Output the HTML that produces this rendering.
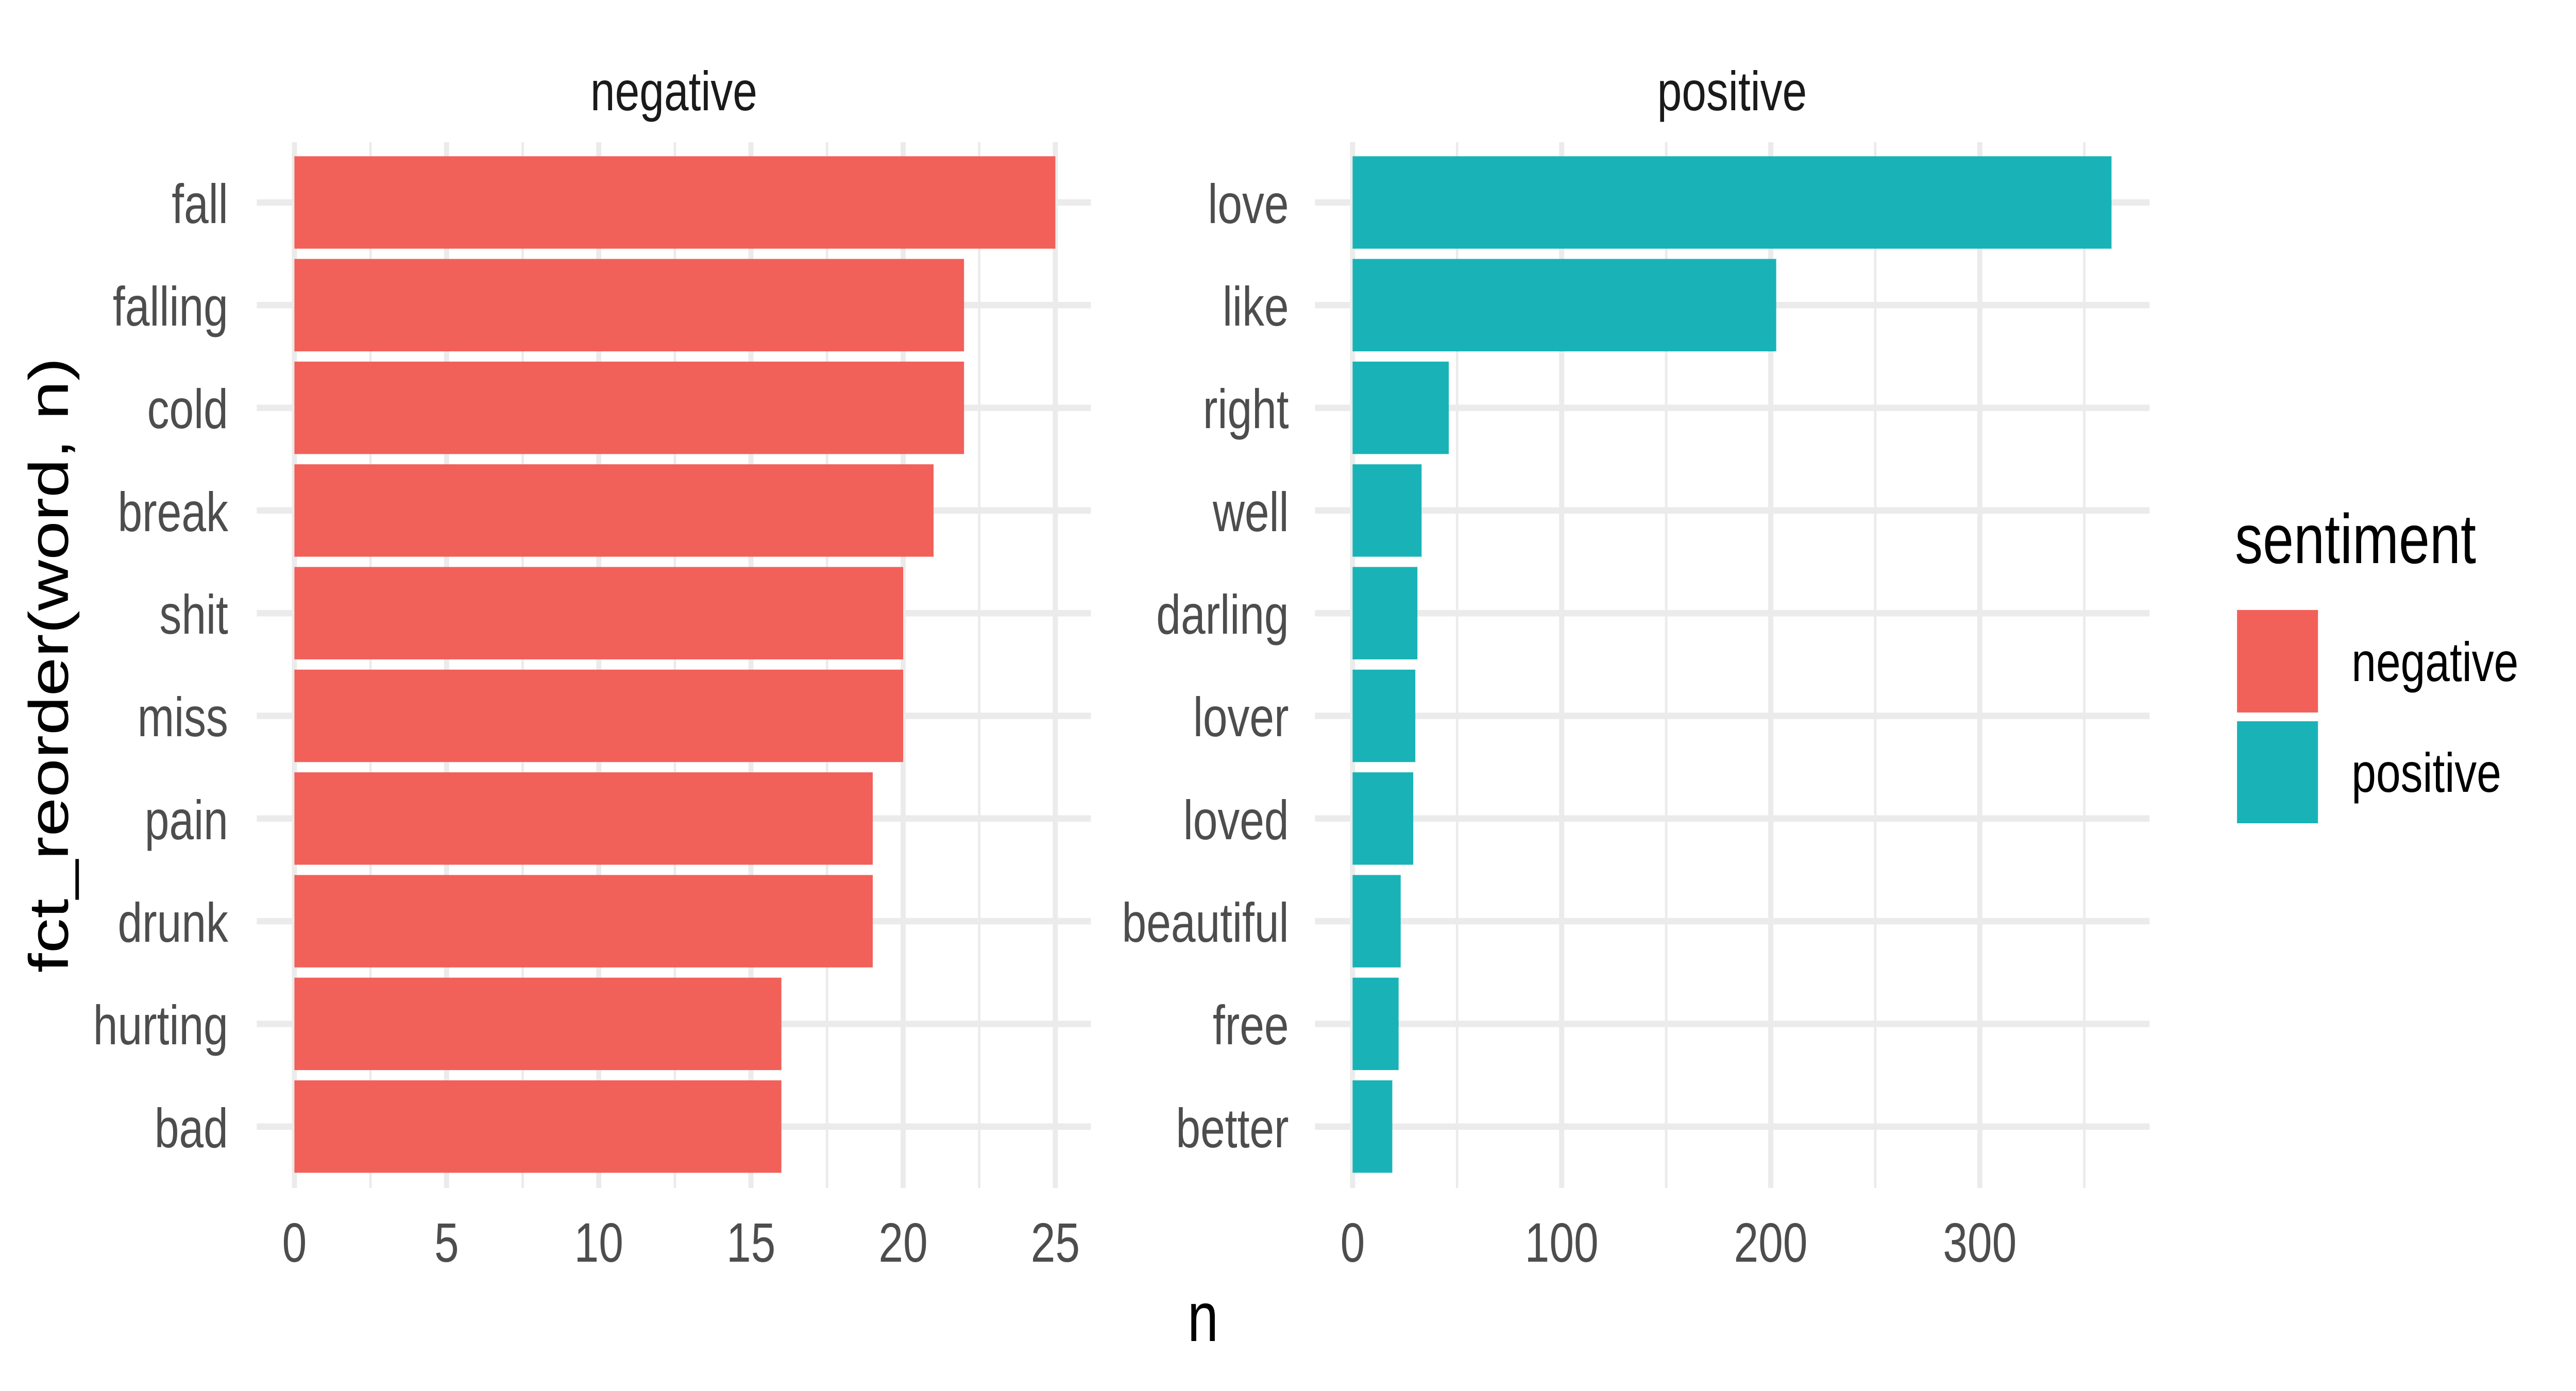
<!DOCTYPE html>
<html><head><meta charset="utf-8"><style>html,body{margin:0;padding:0;background:#fff;overflow:hidden;width:100%;height:100%}svg{display:block;width:100vw;height:100vh}</style></head>
<body>
<svg xmlns="http://www.w3.org/2000/svg" viewBox="0 0 6300 2700" preserveAspectRatio="none" font-family="Liberation Sans, Arial, sans-serif">
<rect width="6300" height="2700" fill="#fff"/>
<g stroke="#EBEBEB">
  <g stroke-width="6">
    <line x1="906.1" y1="276" x2="906.1" y2="2306"/><line x1="1278.3" y1="276" x2="1278.3" y2="2306"/>
    <line x1="1650.5" y1="276" x2="1650.5" y2="2306"/><line x1="2022.7" y1="276" x2="2022.7" y2="2306"/>
    <line x1="2394.9" y1="276" x2="2394.9" y2="2306"/>
    <line x1="3563.6" y1="276" x2="3563.6" y2="2306"/><line x1="4074.9" y1="276" x2="4074.9" y2="2306"/>
    <line x1="4586.2" y1="276" x2="4586.2" y2="2306"/><line x1="5097.5" y1="276" x2="5097.5" y2="2306"/>
  </g>
  <g stroke-width="12.5">
    <line x1="720" y1="276" x2="720" y2="2306"/><line x1="1092.2" y1="276" x2="1092.2" y2="2306"/>
    <line x1="1464.4" y1="276" x2="1464.4" y2="2306"/><line x1="1836.6" y1="276" x2="1836.6" y2="2306"/>
    <line x1="2208.8" y1="276" x2="2208.8" y2="2306"/><line x1="2581" y1="276" x2="2581" y2="2306"/>
    <line x1="3308" y1="276" x2="3308" y2="2306"/><line x1="3819.3" y1="276" x2="3819.3" y2="2306"/>
    <line x1="4330.6" y1="276" x2="4330.6" y2="2306"/><line x1="4841.9" y1="276" x2="4841.9" y2="2306"/>
    <g>
      <line x1="628" y1="393" x2="2668" y2="393"/><line x1="628" y1="592.3" x2="2668" y2="592.3"/>
      <line x1="628" y1="791.6" x2="2668" y2="791.6"/><line x1="628" y1="990.9" x2="2668" y2="990.9"/>
      <line x1="628" y1="1190.2" x2="2668" y2="1190.2"/><line x1="628" y1="1389.5" x2="2668" y2="1389.5"/>
      <line x1="628" y1="1588.8" x2="2668" y2="1588.8"/><line x1="628" y1="1788.1" x2="2668" y2="1788.1"/>
      <line x1="628" y1="1987.4" x2="2668" y2="1987.4"/><line x1="628" y1="2186.7" x2="2668" y2="2186.7"/>
    </g>
    <g>
      <line x1="3216" y1="393" x2="5257" y2="393"/><line x1="3216" y1="592.3" x2="5257" y2="592.3"/>
      <line x1="3216" y1="791.6" x2="5257" y2="791.6"/><line x1="3216" y1="990.9" x2="5257" y2="990.9"/>
      <line x1="3216" y1="1190.2" x2="5257" y2="1190.2"/><line x1="3216" y1="1389.5" x2="5257" y2="1389.5"/>
      <line x1="3216" y1="1588.8" x2="5257" y2="1588.8"/><line x1="3216" y1="1788.1" x2="5257" y2="1788.1"/>
      <line x1="3216" y1="1987.4" x2="5257" y2="1987.4"/><line x1="3216" y1="2186.7" x2="5257" y2="2186.7"/>
    </g>
  </g>
</g>
<g fill="#F2605A">
  <rect x="720" y="303.3" width="1861" height="179.4"/>
  <rect x="720" y="502.6" width="1637.7" height="179.4"/>
  <rect x="720" y="701.9" width="1637.7" height="179.4"/>
  <rect x="720" y="901.2" width="1563.2" height="179.4"/>
  <rect x="720" y="1100.5" width="1488.8" height="179.4"/>
  <rect x="720" y="1299.8" width="1488.8" height="179.4"/>
  <rect x="720" y="1499.1" width="1414.4" height="179.4"/>
  <rect x="720" y="1698.4" width="1414.4" height="179.4"/>
  <rect x="720" y="1897.7" width="1191" height="179.4"/>
  <rect x="720" y="2097" width="1191" height="179.4"/>
</g>
<g fill="#19B3B7">
  <rect x="3308" y="303.3" width="1856" height="179.4"/>
  <rect x="3308" y="502.6" width="1036" height="179.4"/>
  <rect x="3308" y="701.9" width="235.2" height="179.4"/>
  <rect x="3308" y="901.2" width="168.7" height="179.4"/>
  <rect x="3308" y="1100.5" width="158.5" height="179.4"/>
  <rect x="3308" y="1299.8" width="153.4" height="179.4"/>
  <rect x="3308" y="1499.1" width="148.3" height="179.4"/>
  <rect x="3308" y="1698.4" width="117.6" height="179.4"/>
  <rect x="3308" y="1897.7" width="112.5" height="179.4"/>
  <rect x="3308" y="2097" width="97.1" height="179.4"/>
</g>
<g font-size="108" fill="#4D4D4D" text-anchor="end">
  <text x="558" y="433">fall</text><text x="558" y="632">falling</text><text x="558" y="831">cold</text>
  <text x="558" y="1031">break</text><text x="558" y="1230">shit</text><text x="558" y="1429">miss</text>
  <text x="558" y="1629">pain</text><text x="558" y="1828">drunk</text><text x="558" y="2027">hurting</text>
  <text x="558" y="2227">bad</text>
  <text x="3152" y="433">love</text><text x="3152" y="632">like</text><text x="3152" y="831">right</text>
  <text x="3152" y="1031">well</text><text x="3152" y="1230">darling</text><text x="3152" y="1429">lover</text>
  <text x="3152" y="1629">loved</text><text x="3152" y="1828">beautiful</text><text x="3152" y="2027">free</text>
  <text x="3152" y="2227">better</text>
</g>
<g font-size="108" fill="#4D4D4D" text-anchor="middle">
  <text x="720" y="2449">0</text><text x="1092.2" y="2449">5</text><text x="1464.4" y="2449">10</text>
  <text x="1836.6" y="2449">15</text><text x="2208.8" y="2449">20</text><text x="2581" y="2449">25</text>
  <text x="3308" y="2449">0</text><text x="3819.3" y="2449">100</text><text x="4330.6" y="2449">200</text>
  <text x="4841.9" y="2449">300</text>
</g>
<g font-size="108" fill="#1A1A1A" text-anchor="middle">
  <text x="1648" y="214">negative</text>
  <text x="4236" y="214">positive</text>
</g>
<text x="2942" y="2603" font-size="136" text-anchor="middle" fill="#000">n</text>
<text transform="translate(166,1291) rotate(-90)" font-size="136" text-anchor="middle" fill="#000">fct_reorder(word, n)</text>
<text x="5466" y="1093" font-size="136" fill="#000">sentiment</text>
<rect x="5471" y="1184" width="198" height="199" fill="#F2605A"/>
<rect x="5471" y="1400" width="198" height="198" fill="#19B3B7"/>
<text x="5751" y="1322" font-size="108" fill="#000">negative</text>
<text x="5751" y="1537" font-size="108" fill="#000">positive</text>
</svg>
</body></html>
